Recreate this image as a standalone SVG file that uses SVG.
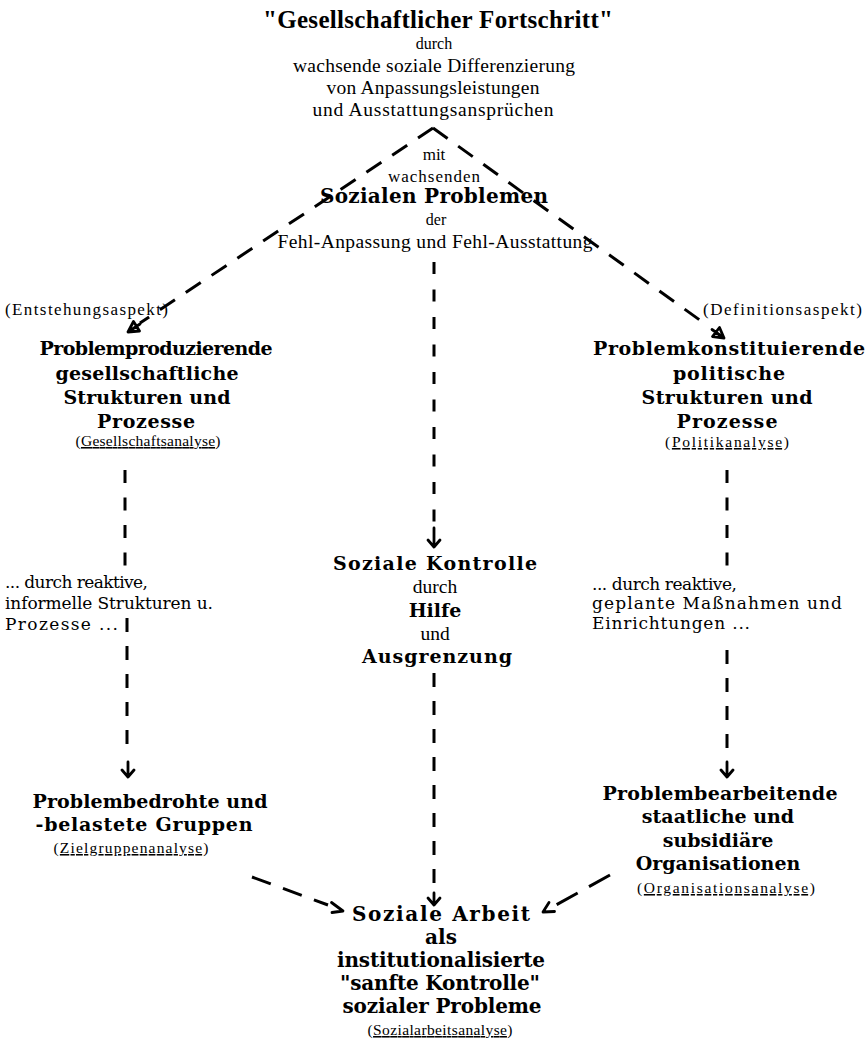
<svg xmlns="http://www.w3.org/2000/svg" width="867" height="1050" viewBox="0 0 867 1050">
<style>
text{font-family:"Liberation Serif","Times New Roman",serif;fill:#000}
.b{font-family:"DejaVu Serif","Liberation Serif",serif;font-weight:bold;font-size:19px;text-anchor:middle}
.t{font-weight:bold;font-size:25px;text-anchor:middle}
.r{font-size:19.5px;text-anchor:middle}
.s{font-size:16px;text-anchor:middle}
.p{font-size:15.5px;text-anchor:middle}
.l{font-family:"DejaVu Serif","Liberation Serif",serif;font-size:17px}
.u{text-decoration:underline}
.d{stroke:#000;stroke-width:3;fill:none;stroke-dasharray:13 14}
.dg{stroke:#000;stroke-width:3;fill:none;stroke-dasharray:18 13}
.a{stroke:#000;stroke-width:2.8;fill:none;stroke-linecap:round;stroke-linejoin:round}
#social-work .b{font-size:20px}
</style>
<rect width="867" height="1050" fill="#fff"/>
<g id="connectors">
<path class="dg" d="M433 128 L140 323"/>
<path class="a" d="M133.5 321.5 L128 332 L139.5 331 Z M128 332 L140 324"/>
<path class="dg" d="M433 128 L708 326"/>
<path class="a" d="M712.5 336.5 L724 338 L719.5 327.5 Z M724 338 L712 329.5"/>
<path class="d" d="M434 262 V525" style="stroke-dasharray:12 15.5"/>
<path class="a" d="M434 528 V547 M428 540 L434 547 L440 540"/>
<path class="d" d="M125 470 V567" style="stroke-dasharray:13 14.5"/>
<path class="d" d="M127 618 V750" style="stroke-dasharray:14 14"/>
<path class="a" d="M128 762 V777 M122 770 L128 777 L134 770"/>
<path class="d" d="M727 470 V570" style="stroke-dasharray:13 14.5"/>
<path class="d" d="M727 650 V750" style="stroke-dasharray:14 14"/>
<path class="a" d="M727 762 V777 M721 770 L727 777 L733 770"/>
<path class="d" d="M434 673 V885" style="stroke-dasharray:14 14"/>
<path class="a" d="M434 893 V905 M428 898 L434 905 L440 898"/>
<path class="dg" d="M252 877 L328 905" style="stroke-dasharray:20 13"/>
<path class="a" d="M331.5 902.5 L343 911 L332 912.5"/>
<path class="dg" d="M610 875 L556 905" style="stroke-dasharray:24 13"/>
<path class="a" d="M549 902.5 L543 912 L554.5 911.5"/>
</g>
<g id="top">
<text class="t" x="438" y="28" textLength="350" lengthAdjust="spacing">"Gesellschaftlicher  Fortschritt"</text>
<text class="s" x="434" y="49">durch</text>
<text class="r" x="434" y="72" textLength="282" lengthAdjust="spacing">wachsende soziale Differenzierung</text>
<text class="r" x="433" y="94" textLength="213" lengthAdjust="spacing">von Anpassungsleistungen</text>
<text class="r" x="433" y="116" textLength="241" lengthAdjust="spacing">und Ausstattungsansprüchen</text>
</g>
<g id="problems">
<text class="s" x="434" y="160" style="font-size:17px">mit</text>
<text class="s" x="434" y="182" style="font-size:17px" textLength="92" lengthAdjust="spacing">wachsenden</text>
<text class="b" x="434" y="203" style="font-size:20px" textLength="228" lengthAdjust="spacing">Sozialen  Problemen</text>
<text class="s" x="436" y="225">der</text>
<text class="r" x="435" y="248" textLength="315" lengthAdjust="spacing">Fehl-Anpassung und Fehl-Ausstattung</text>
</g>
<g id="left-structures">
<text class="p" x="5" y="315" style="text-anchor:start;font-size:17px" textLength="163" lengthAdjust="spacing">(Entstehungsaspekt)</text>
<text class="b" x="156" y="355" textLength="233" lengthAdjust="spacing">Problemproduzierende</text>
<text class="b" x="147" y="380" textLength="183" lengthAdjust="spacing">gesellschaftliche</text>
<text class="b" x="147" y="404" textLength="167" lengthAdjust="spacing">Strukturen  und</text>
<text class="b" x="146" y="428" textLength="98" lengthAdjust="spacing">Prozesse</text>
<text class="p" x="148" y="446" textLength="145" lengthAdjust="spacing">(<tspan class="u">Gesellschaftsanalyse</tspan>)</text>
</g>
<g id="left-informal">
<text class="l" x="5" y="588" textLength="143" lengthAdjust="spacing">... durch reaktive,</text>
<text class="l" x="5" y="609" textLength="208" lengthAdjust="spacing">informelle Strukturen u.</text>
<text class="l" x="5" y="630" textLength="113" lengthAdjust="spacing">Prozesse ...</text>
</g>
<g id="left-groups">
<text class="b" x="150" y="808" textLength="235" lengthAdjust="spacing">Problembedrohte  und</text>
<text class="b" x="144" y="831" textLength="217" lengthAdjust="spacing">-belastete  Gruppen</text>
<text class="p" x="131" y="853" textLength="155" lengthAdjust="spacing">(<tspan class="u">Zielgruppenanalyse</tspan>)</text>
</g>
<g id="right-structures">
<text class="p" x="703" y="315" style="text-anchor:start;font-size:17px" textLength="159" lengthAdjust="spacing">(Definitionsaspekt)</text>
<text class="b" x="729" y="355" textLength="272" lengthAdjust="spacing">Problemkonstituierende</text>
<text class="b" x="729" y="380" textLength="112" lengthAdjust="spacing">politische</text>
<text class="b" x="727" y="404" textLength="171" lengthAdjust="spacing">Strukturen  und</text>
<text class="b" x="727" y="428" textLength="101" lengthAdjust="spacing">Prozesse</text>
<text class="p" x="727" y="447" textLength="124" lengthAdjust="spacing">(<tspan class="u">Politikanalyse</tspan>)</text>
</g>
<g id="right-planned">
<text class="l" x="592" y="590" textLength="145" lengthAdjust="spacing">... durch reaktive,</text>
<text class="l" x="592" y="609" textLength="250" lengthAdjust="spacing">geplante Maßnahmen und</text>
<text class="l" x="592" y="629" textLength="158" lengthAdjust="spacing">Einrichtungen ...</text>
</g>
<g id="right-organisations">
<text class="b" x="720" y="800" textLength="235" lengthAdjust="spacing">Problembearbeitende</text>
<text class="b" x="718" y="823">staatliche  und</text>
<text class="b" x="718" y="847">subsidiäre</text>
<text class="b" x="718" y="870">Organisationen</text>
<text class="p" x="726" y="893" textLength="178" lengthAdjust="spacing">(<tspan class="u">Organisationsanalyse</tspan>)</text>
</g>
<g id="center-control">
<text class="b" x="435" y="570" textLength="204" lengthAdjust="spacing">Soziale  Kontrolle</text>
<text class="r" x="435" y="593">durch</text>
<text class="b" x="435" y="617">Hilfe</text>
<text class="r" x="435" y="640">und</text>
<text class="b" x="437" y="663" textLength="150" lengthAdjust="spacing">Ausgrenzung</text>
</g>
<g id="social-work">
<text class="b" x="441" y="921" textLength="178" lengthAdjust="spacing">Soziale  Arbeit</text>
<text class="b" x="441" y="944">als</text>
<text class="b" x="441" y="967" textLength="208" lengthAdjust="spacing">institutionalisierte</text>
<text class="b" x="440" y="990" textLength="200" lengthAdjust="spacing">"sanfte  Kontrolle"</text>
<text class="b" x="442" y="1013" textLength="199" lengthAdjust="spacing">sozialer  Probleme</text>
<text class="p" x="440" y="1035" textLength="145" lengthAdjust="spacing">(<tspan class="u">Sozialarbeitsanalyse</tspan>)</text>
</g>
</svg>
